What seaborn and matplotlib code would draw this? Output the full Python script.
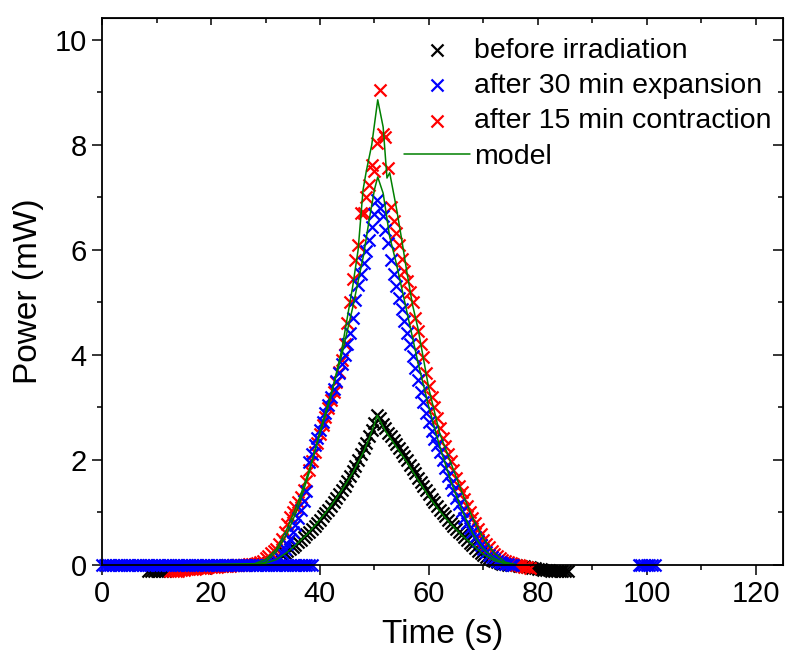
import numpy as np
import matplotlib
matplotlib.use("Agg")
import matplotlib.pyplot as plt
from matplotlib.ticker import MultipleLocator
import seaborn as sns

# before irradiation
black_t = [8.5, 9, 9.5, 10, 10.5, 11, 11.5, 12, 13, 14,
           15, 16, 17, 18, 19, 20, 21, 22, 23, 24,
           25, 26, 27, 28, 29, 29.5, 30, 30.5, 31, 31.5,
           32, 32.5, 33, 33.5, 34, 34.5, 35, 35.5, 36, 36.5,
           37, 37.5, 38, 38.5, 39, 39.5, 40, 40.5, 41, 41.5,
           42, 42.5, 43, 43.5, 44, 44.5, 45, 45.5, 46, 46.5,
           47, 47.5, 48, 48.5, 49, 49.5, 50, 50.5, 51, 51.5,
           52, 52.5, 53, 53.5, 54, 54.5, 55, 55.5, 56, 56.5,
           57, 57.5, 58, 58.5, 59, 59.5, 60, 60.5, 61, 61.5,
           62, 62.5, 63, 63.5, 64, 64.5, 65, 65.5, 66, 66.5,
           67, 67.5, 68, 68.5, 69, 69.5, 70, 70.5, 71, 71.5,
           72, 72.5, 73, 73.5, 74, 74.5, 75, 75.5, 76, 76.5,
           77, 77.5, 78, 78.5, 79, 79.5, 80, 80.5, 81, 81.5,
           82, 82.5, 83, 83.5, 84, 84.5, 85, 85.5]
black_p = [-0.12, -0.12, -0.12, -0.12, -0.12, -0.11, -0.11, -0.10, -0.09, -0.08,
           -0.07, -0.06, -0.05, -0.04, -0.03, -0.03, -0.02, -0.02, -0.01, -0.01,
           0.00, 0.00, 0.00, 0.01, 0.01, 0.02, 0.02, 0.04, 0.06, 0.08,
           0.11, 0.14, 0.18, 0.22, 0.26, 0.30, 0.34, 0.38, 0.43, 0.48,
           0.53, 0.58, 0.63, 0.68, 0.74, 0.80, 0.86, 0.92, 0.99, 1.05,
           1.12, 1.19, 1.27, 1.35, 1.43, 1.51, 1.60, 1.69, 1.79, 1.89,
           2.00, 2.11, 2.22, 2.33, 2.45, 2.57, 2.70, 2.85, 2.80, 2.68,
           2.60, 2.52, 2.45, 2.38, 2.30, 2.22, 2.15, 2.07, 1.99, 1.91,
           1.83, 1.74, 1.66, 1.58, 1.50, 1.42, 1.34, 1.26, 1.19, 1.12,
           1.05, 0.98, 0.92, 0.86, 0.80, 0.74, 0.68, 0.63, 0.58, 0.52,
           0.47, 0.42, 0.37, 0.32, 0.27, 0.23, 0.19, 0.15, 0.12, 0.09,
           0.07, 0.05, 0.03, 0.02, 0.01, 0.00, 0.00, -0.01, -0.01, -0.02,
           -0.02, -0.03, -0.04, -0.05, -0.06, -0.07, -0.08, -0.09, -0.10, -0.10,
           -0.10, -0.11, -0.11, -0.11, -0.11, -0.12, -0.12, -0.12]

# after 30 min expansion
blue_base_t = [0, 0.5, 1, 1.5, 2, 2.5, 3, 3.5, 4, 4.5,
               5, 5.5, 6, 6.5, 7, 7.5, 8, 8.5, 9, 9.5,
               10, 10.5, 11, 11.5, 12, 12.5, 13, 13.5, 14, 14.5,
               15, 15.5, 16, 16.5, 17, 17.5, 18, 18.5, 19, 19.5,
               20, 20.5, 21, 21.5, 22, 22.5, 23, 23.5, 24, 24.5,
               25, 25.5, 26, 26.5, 27, 27.5, 28, 28.5, 29, 29.5,
               30, 30.5, 31, 31.5, 32, 32.5, 33, 33.5, 34, 34.5,
               35, 35.5, 36, 36.5, 37, 37.5, 38, 38.5]
blue_late_t = [98.5, 99, 99.5, 100, 100.5, 101, 101.5]
blue_t = [31, 31.5, 32, 32.5, 33, 33.5, 34, 34.5, 35, 35.5,
          36, 36.5, 37, 37.5, 38, 38.5, 39, 39.5, 40, 40.5,
          41, 41.5, 42, 42.5, 43, 43.5, 44, 44.5, 45, 45.5,
          46, 46.5, 47, 47.5, 48, 48.5, 49, 49.5, 50, 50.5,
          51, 51.5, 52, 52.5, 53, 53.5, 54, 54.5, 55, 55.5,
          56, 56.5, 57, 57.5, 58, 58.5, 59, 59.5, 60, 60.5,
          61, 61.5, 62, 62.5, 63, 63.5, 64, 64.5, 65, 65.5,
          66, 66.5, 67, 67.5, 68, 68.5, 69, 69.5, 70, 70.5,
          71, 71.5, 72, 72.5, 73, 73.5, 74, 74.5, 75, 75.5]
blue_p = [0.02, 0.05, 0.10, 0.15, 0.22, 0.30, 0.40, 0.50, 0.62, 0.75,
          0.90, 1.05, 1.22, 1.40, 1.95, 2.12, 2.28, 2.42, 2.57, 2.73,
          2.90, 3.05, 3.20, 3.35, 3.50, 3.65, 3.82, 4.00, 4.20, 4.42,
          4.70, 5.05, 5.33, 5.55, 5.75, 5.98, 6.19, 6.44, 6.68, 6.95,
          6.80, 6.65, 6.38, 6.13, 5.80, 5.55, 5.32, 5.09, 4.88, 4.65,
          4.42, 4.20, 3.98, 3.75, 3.52, 3.30, 3.10, 2.90, 2.72, 2.55,
          2.40, 2.28, 2.15, 2.00, 1.85, 1.70, 1.55, 1.42, 1.28, 1.15,
          1.02, 0.90, 0.80, 0.70, 0.62, 0.53, 0.45, 0.37, 0.30, 0.24,
          0.19, 0.15, 0.11, 0.08, 0.05, 0.03, 0.02, 0.01, 0.00, 0.00]

# after 15 min contraction
red_t = [12.5, 13, 13.5, 14, 14.5, 15, 15.5, 16, 16.5, 17,
         17.5, 18, 18.5, 19, 19.5, 20, 20.5, 21, 21.5, 22,
         22.5, 23, 23.5, 24, 24.5, 25, 25.5, 26, 26.5, 27,
         27.5, 28, 28.5, 29, 29.5, 30, 30.5, 31, 31.5, 32,
         32.5, 33, 33.5, 34, 34.5, 35, 35.5, 36, 36.5, 37,
         37.5, 38, 38.5, 39, 39.5, 40, 40.5, 41, 41.5, 42,
         42.5, 43, 43.5, 44, 44.5, 45, 45.5, 46, 46.5, 47,
         47.5, 48, 48.5, 49, 49.5, 50, 50.5, 51, 51.5, 52,
         52.5, 53, 53.5, 54, 54.5, 55, 55.5, 56, 56.5, 57,
         57.5, 58, 58.5, 59, 59.5, 60, 60.5, 61, 61.5, 62,
         62.5, 63, 63.5, 64, 64.5, 65, 65.5, 66, 66.5, 67,
         67.5, 68, 68.5, 69, 69.5, 70, 70.5, 71, 71.5, 72,
         72.5, 73, 73.5, 74, 74.5, 75, 75.5, 76, 76.5, 77,
         77.5, 78, 78.5]
red_p = [-0.12, -0.12, -0.11, -0.11, -0.10, -0.10, -0.09, -0.09, -0.08, -0.08,
         -0.07, -0.07, -0.06, -0.06, -0.05, -0.05, -0.04, -0.04, -0.03, -0.03,
         -0.02, -0.02, -0.02, -0.01, -0.01, -0.01, 0.00, 0.00, 0.00, 0.01,
         0.01, 0.02, 0.03, 0.05, 0.08, 0.12, 0.17, 0.22, 0.26, 0.30,
         0.40, 0.50, 0.62, 0.78, 0.91, 1.00, 1.10, 1.20, 1.30, 1.42,
         1.60, 1.80, 1.98, 2.15, 2.32, 2.50, 2.66, 2.82, 2.98, 3.14,
         3.30, 3.48, 3.68, 3.90, 4.20, 4.60, 5.00, 5.45, 5.80, 6.10,
         6.70, 6.70, 7.00, 7.24, 7.62, 7.50, 8.04, 9.05, 8.20, 8.15,
         7.56, 6.82, 6.55, 6.32, 6.10, 5.82, 5.60, 5.40, 5.20, 5.00,
         4.70, 4.45, 4.20, 3.95, 3.65, 3.40, 3.20, 3.00, 2.80, 2.60,
         2.42, 2.27, 2.12, 1.97, 1.80, 1.65, 1.51, 1.38, 1.25, 1.12,
         1.00, 0.90, 0.80, 0.69, 0.58, 0.48, 0.40, 0.33, 0.26, 0.20,
         0.16, 0.12, 0.10, 0.08, 0.06, 0.04, 0.02, 0.00, -0.01, -0.02,
         -0.04, -0.05, -0.06]

# model curves
model_black_t = [15, 28, 30, 32, 34, 36, 38, 40, 42, 44, 46, 48, 49, 50, 50.5,
                 51, 52, 54, 56, 58, 60, 62, 64, 66, 68, 70, 72, 74, 76]
model_black_p = [0.0, 0.0, 0.03, 0.10, 0.24, 0.42, 0.62, 0.86, 1.12, 1.42, 1.75, 2.15, 2.40, 2.68, 2.85,
                 2.75, 2.55, 2.25, 1.95, 1.62, 1.30, 1.02, 0.78, 0.57, 0.38, 0.20, 0.08, 0.02, 0.0]
model_blue_t = [15, 28, 30, 32, 34, 36, 38, 40, 42, 44, 46, 48, 49, 50, 50.6,
                51.6, 52.8, 54, 56, 58, 60, 62, 64, 66, 68, 70, 72, 74, 76]
model_blue_p = [0.0, 0.0, 0.05, 0.25, 0.60, 1.10, 1.75, 2.55, 3.25, 4.00, 4.90, 5.90, 6.55, 7.15, 7.39,
                7.08, 6.25, 5.75, 4.80, 3.85, 3.00, 2.25, 1.60, 1.05, 0.60, 0.30, 0.12, 0.03, 0.0]
model_red_t = [15, 28, 30, 32, 34, 36, 38, 40, 42, 44, 46, 47, 47.9, 48.5, 49.5, 50.6,
               51.6, 52.3, 52.8, 54.1, 55, 56, 57, 58, 60, 62, 64, 66, 68, 70, 72, 74, 76]
model_red_p = [0.0, 0.02, 0.10, 0.30, 0.70, 1.20, 1.80, 2.50, 3.20, 4.10, 5.30, 6.00, 7.14, 7.50, 8.00, 8.86,
               8.34, 7.37, 7.47, 6.76, 6.20, 5.55, 4.95, 4.50, 3.35, 2.50, 1.95, 1.40, 0.90, 0.50, 0.22, 0.05, 0.0]

sns.set_style("ticks")
plt.rcParams['font.family'] = ['Liberation Sans', 'DejaVu Sans']
for key in ['text.color', 'axes.labelcolor', 'xtick.color', 'ytick.color', 'axes.edgecolor']:
    plt.rcParams[key] = 'black'

fig = plt.figure(figsize=(7.86, 6.66), dpi=100)
ax = fig.add_axes([0.13, 0.152, 0.866, 0.821])

mk = dict(marker='x', s=75, linewidth=1.6, clip_on=False)
sns.scatterplot(x=black_t, y=black_p, color='black', label='before irradiation', ax=ax, **mk)
sns.scatterplot(x=red_t, y=red_p, color='red', label='after 15 min contraction', ax=ax, **mk)
sns.scatterplot(x=blue_base_t, y=[0.0] * len(blue_base_t), color='blue', ax=ax, **mk)
sns.scatterplot(x=blue_late_t, y=[0.0] * len(blue_late_t), color='blue', ax=ax, **mk)
sns.scatterplot(x=blue_t, y=blue_p, color='blue', label='after 30 min expansion', ax=ax, **mk)

sns.lineplot(x=model_black_t, y=model_black_p, color='green', lw=1.1, sort=False,
             estimator=None, label='model', ax=ax)
sns.lineplot(x=model_blue_t, y=model_blue_p, color='green', lw=1.1, sort=False,
             estimator=None, ax=ax)
sns.lineplot(x=model_red_t, y=model_red_p, color='green', lw=1.1, sort=False,
             estimator=None, ax=ax)

ax.set_xlim(0, 125)
ax.set_ylim(0, 10.42)
ax.xaxis.set_major_locator(MultipleLocator(20))
ax.xaxis.set_minor_locator(MultipleLocator(10))
ax.yaxis.set_major_locator(MultipleLocator(2))
ax.yaxis.set_minor_locator(MultipleLocator(1))
ax.tick_params(which='major', length=7, width=1.1, labelsize=21, direction='out', pad=4)
ax.tick_params(which='minor', length=3.5, width=1.1, direction='out')
for sp in ax.spines.values():
    sp.set_linewidth(1.3)

# mirrored inward ticks on top and right
top = ax.secondary_xaxis('top')
top.xaxis.set_major_locator(MultipleLocator(20))
top.xaxis.set_minor_locator(MultipleLocator(10))
top.tick_params(which='both', direction='in', labeltop=False, width=1.1)
top.tick_params(which='major', length=5)
top.tick_params(which='minor', length=3.5)
right = ax.secondary_yaxis('right')
right.yaxis.set_major_locator(MultipleLocator(2))
right.yaxis.set_minor_locator(MultipleLocator(1))
right.tick_params(which='both', direction='in', labelright=False, width=1.1)
right.tick_params(which='major', length=7)
right.tick_params(which='minor', length=3.5)

ax.set_xlabel('Time (s)', fontsize=24, labelpad=8)
ax.set_ylabel('Power (mW)', fontsize=24, labelpad=8)

handles, labels = ax.get_legend_handles_labels()
order = ['before irradiation', 'after 30 min expansion', 'after 15 min contraction', 'model']
hmap = dict(zip(labels, handles))
ax.legend([hmap[k] for k in order], order, loc='upper right', bbox_to_anchor=(1.0, 0.985),
          frameon=False, fontsize=20.5, handlelength=2.3, handletextpad=0.15,
          labelspacing=0.33, borderaxespad=0.0)

fig.savefig('out.png', dpi=100)
